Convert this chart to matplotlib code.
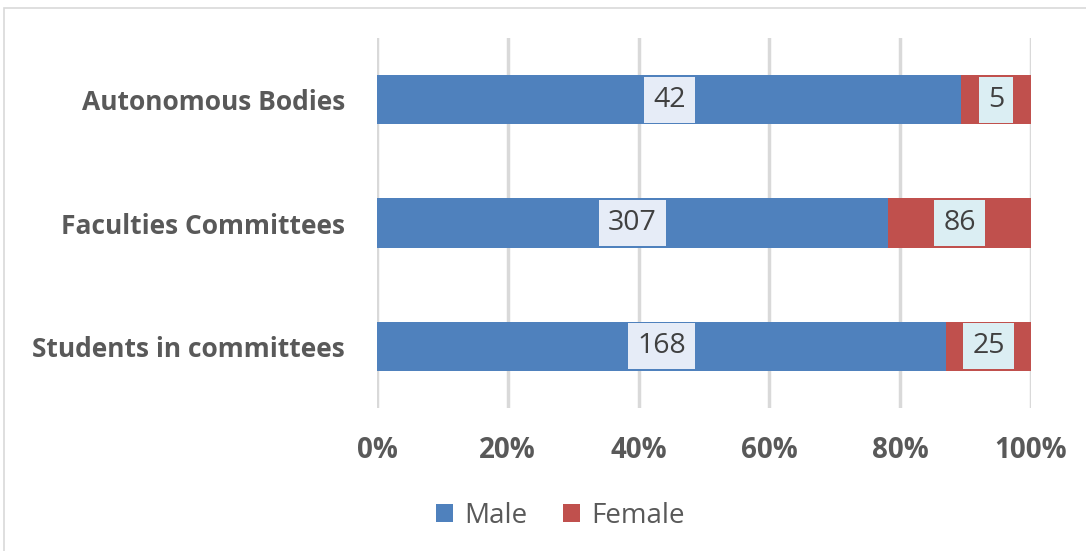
import matplotlib.pyplot as plt
from matplotlib.patches import Rectangle

categories = ["Autonomous Bodies", "Faculties Committees", "Students in committees"]
male = [42, 307, 168]
female = [5, 86, 25]
ticks = [0, 20, 40, 60, 80, 100]

plt.rcParams['font.family'] = ['Open Sans', 'DejaVu Sans']

fig = plt.figure(figsize=(10.86, 5.51), dpi=100)
ax = fig.add_axes([0.3471, 0.2595, 0.6023, 0.6715])

fig.patches.append(Rectangle((0.004, -0.01), 1.0, 0.996, transform=fig.transFigure,
                             fill=False, edgecolor='#d9d9d9', linewidth=1.2))

male_pct = [m / (m + f) * 100 for m, f in zip(male, female)]
female_pct = [f / (m + f) * 100 for m, f in zip(male, female)]
y = list(range(len(categories)))

b1 = ax.barh(y, male_pct, height=0.4, color='#4f81bd', label='Male', zorder=3)
b2 = ax.barh(y, female_pct, left=male_pct, height=0.4, color='#c0504d', label='Female', zorder=3)

for i in y:
    ax.text(male_pct[i] / 2, i, str(male[i]), ha='center', va='center', fontsize=20.5,
            color='#404040', zorder=4,
            bbox=dict(boxstyle='square,pad=0.32', facecolor='#e6ecf7', edgecolor='none'))
    ax.text(male_pct[i] + female_pct[i] / 2, i, str(female[i]), ha='center', va='center',
            fontsize=20.5, color='#404040', zorder=4,
            bbox=dict(boxstyle='square,pad=0.32', facecolor='#dbeef3', edgecolor='none'))

ax.set_ylim(2.5, -0.5)
ax.set_xlim(0, 100)
ax.set_xticks(ticks)
ax.set_xticklabels([f"{t}%" for t in ticks], fontsize=20, fontweight='bold', color='#595959')
ax.set_yticks(y)
ax.set_yticklabels(categories, fontsize=19, fontweight='bold', color='#595959')
ax.tick_params(length=0, pad=20, axis='x')
ax.tick_params(length=0, pad=23, axis='y')
ax.xaxis.grid(True, color='#d9d9d9', linewidth=2.5, zorder=0)
for s in ax.spines.values():
    s.set_visible(False)

fig.legend(handles=[b1, b2], loc='center', bbox_to_anchor=(0.516, 0.064), ncol=2,
           frameon=False, fontsize=20, labelcolor='#595959', handlelength=0.6,
           handleheight=0.6, handletextpad=0.4, columnspacing=1.3)

fig.savefig("out.png", dpi=100)
